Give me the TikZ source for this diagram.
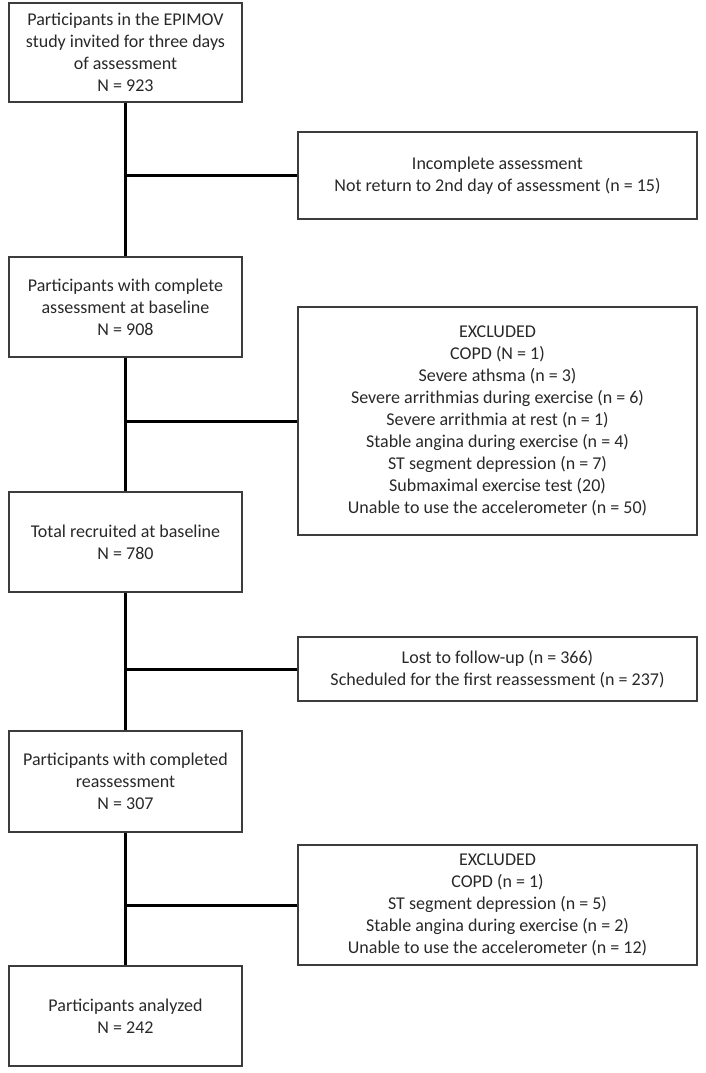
\documentclass[tikz,border=0pt]{standalone}
\usepackage{fontspec}
\setmainfont{Carlito}
\definecolor{boxgray}{RGB}{60,60,60}
\definecolor{txtgray}{RGB}{40,40,40}

\begin{document}
\begin{tikzpicture}[x=1pt,y=-1pt,
	stage/.style={draw=boxgray,line width=1.3pt,align=center,inner sep=0pt,
		minimum width=233pt,text=txtgray,font=\fontsize{18}{22}\selectfont},
	sidebox/.style={stage,minimum width=399pt},
	flow/.style={line width=3pt,black}]
	\useasboundingbox (0,0) rectangle (705,1073);
	% main column
	\node [stage,minimum height=99pt] (invited) at (125.5,52.5)
		{Participants in the EPIMOV\\study invited for three days\\of assessment\\N = 923};
	\node [stage,minimum height=100pt] (complete) at (125.5,307)
		{Participants with complete\\assessment at baseline\\N = 908};
	\node [stage,minimum height=100pt] (recruited) at (125.5,542)
		{Total recruited at baseline\\N = 780};
	\node [stage,minimum height=101pt] (reassessed) at (125.5,781.5)
		{Participants with completed\\reassessment\\N = 307};
	\node [stage,minimum height=100pt] (analyzed) at (125.5,1016)
		{Participants analyzed\\N = 242};
	% side boxes
	\node [sidebox,minimum height=87pt] (incomplete) at (497.5,175.5)
		{Incomplete assessment\\Not return to 2nd day of assessment (n = 15)};
	\node [sidebox,minimum height=228pt] (excl1) at (497.5,421)
		{EXCLUDED\\COPD (N = 1)\\Severe athsma (n = 3)\\Severe arrithmias during exercise (n = 6)\\
		Severe arrithmia at rest (n = 1)\\Stable angina during exercise (n = 4)\\
		ST segment depression (n = 7)\\Submaximal exercise test (20)\\
		Unable to use the accelerometer (n = 50)};
	\node [sidebox,minimum height=64pt] (lost) at (497.5,669)
		{Lost to follow-up (n = 366)\\Scheduled for the first reassessment (n = 237)};
	\node [sidebox,minimum height=120pt] (excl2) at (497.5,905)
		{EXCLUDED\\COPD (n = 1)\\ST segment depression (n = 5)\\
		Stable angina during exercise (n = 2)\\Unable to use the accelerometer (n = 12)};
	% connectors
	\draw [flow] (invited) -- (complete);
	\draw [flow] (complete) -- (recruited);
	\draw [flow] (recruited) -- (reassessed);
	\draw [flow] (reassessed) -- (analyzed);
	\draw [flow] (invited.south |- incomplete.west) -- (incomplete.west);
	\draw [flow] (invited.south |- excl1.west) -- (excl1.west);
	\draw [flow] (invited.south |- lost.west) -- (lost.west);
	\draw [flow] (invited.south |- excl2.west) -- (excl2.west);
\end{tikzpicture}
\end{document}
